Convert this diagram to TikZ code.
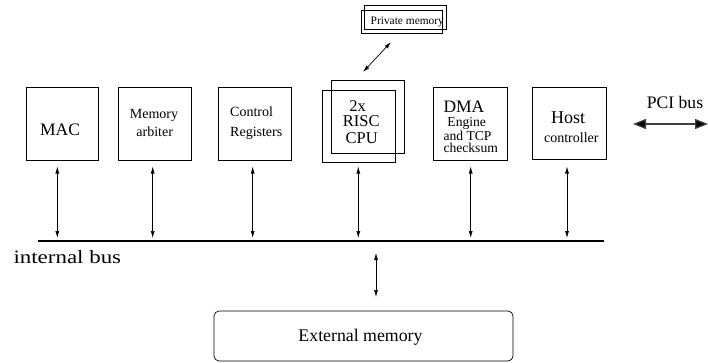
\documentclass[tikz,border=0pt]{standalone}
\usepackage{fontspec}
\setmainfont{Liberation Serif}
\usetikzlibrary{arrows.meta}
\newcommand\fsz[1]{\fontsize{#1}{#1}\selectfont}
\begin{document}
\begin{tikzpicture}[x=1pt,y=-1pt,
  blk/.style={draw, line width=0.7pt, inner sep=0pt, outer sep=0pt},
  txt/.style={inner sep=0pt, anchor=base},
  txtl/.style={inner sep=0pt, anchor=base west},
  biarrow/.style={line width=0.7pt, {Latex[length=7pt,width=4pt]}-{Latex[length=7pt,width=4pt]}},
  fatarrow/.style={line width=1.3pt, draw=black!75, {Triangle[length=13pt,width=10pt,fill=black]}-{Triangle[length=13pt,width=10pt,fill=black]}},
  bus/.style={line width=2.6pt, line cap=butt}]
\useasboundingbox (0,0) rectangle (708,362);

% functional blocks
\node[blk, minimum width=72pt, minimum height=73pt] (mac)  at (62,123.5)  {};
\node[blk, minimum width=73pt, minimum height=73pt] (arb)  at (154.5,123.5) {};
\node[blk, minimum width=73pt, minimum height=73pt] (ctl)  at (254.5,123.5) {};
\node[blk, minimum width=73pt, minimum height=73pt] (cpuA) at (367.5,116.5) {};
\node[blk, minimum width=73pt, minimum height=72pt] (cpuB) at (358.5,126)  {};
\node[blk, minimum width=74pt, minimum height=73pt] (dma)  at (470.5,124)  {};
\node[blk, minimum width=74pt, minimum height=72pt] (host) at (569,123)    {};
\node[blk, minimum width=82pt, minimum height=24pt] (pmA)  at (405,17)     {};
\node[blk, minimum width=81pt, minimum height=23pt] (pmB)  at (401.5,21.5) {};
\node[blk, rounded corners=5pt, minimum width=299pt, minimum height=50pt] (ext) at (363.5,336) {};

% block labels
\node[txt, font=\fsz{17.5}] (macT) at (60,135) {MAC};
\node[txt, font=\fsz{14}] (arbT1) at (154,118.3) {Memory};
\node[txt, font=\fsz{14}] (arbT2) at (154.7,136.7) {arbiter};
\node[txtl, font=\fsz{14}] (ctlT1) at (230,116.5) {Control};
\node[txtl, font=\fsz{14}] (ctlT2) at (230,136.7) {Registers};
\node[txt, font=\fsz{16.5}] (cpuT1) at (357.5,111) {2x};
\node[txt, font=\fsz{16.5}] (cpuT2) at (361.3,126.7) {RISC};
\node[txt, font=\fsz{16.5}] (cpuT3) at (361.7,143.3) {CPU};
\node[txtl, font=\fsz{17.5}] (dmaT1) at (443.3,112.3) {DMA};
\node[txt, font=\fsz{13.6}] (dmaT2) at (466.7,126.7) {Engine};
\node[txtl, font=\fsz{13.6}] (dmaT3) at (443.3,140) {and TCP};
\node[txtl, font=\fsz{13.6}] (dmaT4) at (443.3,152.3) {checksum};
\node[txt, font=\fsz{18}] (hostT1) at (568,123.6) {Host};
\node[txt, font=\fsz{14}] (hostT2) at (571.3,142.9) {controller};
\node[txt, font=\fsz{11.4}] (pmT) at (407.3,24) {Private memory};
\node[txt, font=\fsz{17.8}] (extT) at (360.5,341.7) {External memory};
\node[txt, font=\fsz{17.6}] (pciT) at (675,108.3) {PCI bus};
\node[txtl] (busT) at (13.3,263.3) {\scalebox{1.22}[1]{\fsz{18.8}internal bus}};

% internal bus
\coordinate (busL) at (38,241);
\coordinate (busR) at (604,241);
\draw[bus] (busL) -- (busR);

% block <-> bus links
\draw[biarrow] ([xshift=-4.7pt,yshift=-6.5pt]mac.south)  -- ([xshift=-4.7pt]mac.south |- busL) [shorten >=3pt];
\draw[biarrow] ([xshift=-1.8pt,yshift=-6.5pt]arb.south)  -- ([xshift=-1.8pt]arb.south |- busL) [shorten >=3pt];
\draw[biarrow] ([xshift=-1.8pt,yshift=-6.5pt]ctl.south)  -- ([xshift=-1.8pt]ctl.south |- busL) [shorten >=3pt];
\draw[biarrow] ([xshift=-0.2pt,yshift=-4.5pt]cpuB.south) -- ([xshift=-0.2pt]cpuB.south |- busL) [shorten >=3pt];
\draw[biarrow] ([xshift=0.2pt,yshift=-6pt]dma.south)     -- ([xshift=0.2pt]dma.south |- busL) [shorten >=3pt];
\draw[biarrow] ([xshift=-2pt,yshift=-7.5pt]host.south)   -- ([xshift=-2pt]host.south |- busL) [shorten >=3pt];

% bus <-> external memory
\draw[biarrow] ([xshift=12.5pt]ext.north |- busL) -- ([xshift=12.5pt,yshift=14pt]ext.north) [shorten <=12pt];

% CPU <-> private memory
\draw[biarrow] ([xshift=-10.5pt,yshift=-9pt]pmB.south) -- ([xshift=-4.5pt,yshift=8pt]cpuA.north);

% PCI bus
\coordinate (pciL) at (633,124);
\coordinate (pciR) at (708,124);
\draw[fatarrow] (pciL) -- (pciR);
\end{tikzpicture}
\end{document}
